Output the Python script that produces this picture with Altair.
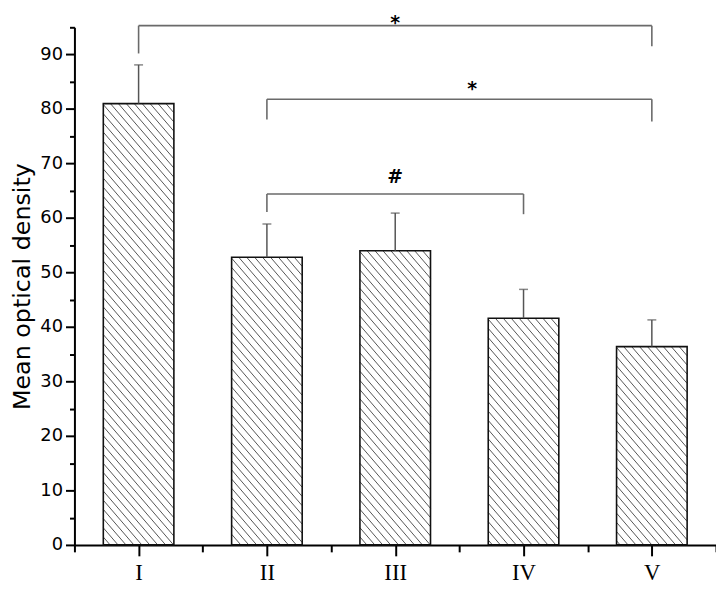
import json
import altair as alt
import pandas as pd

# ---------------- data ----------------
groups = ["I", "II", "III", "IV", "V"]
positions = [1, 2, 3, 4, 5]
means = [81.0, 52.8, 54.0, 41.6, 36.4]
sds = [7.1, 6.1, 6.9, 5.3, 4.9]

br_x1 = [1, 2, 2]
br_x2 = [5, 5, 4]
br_y = [95.3, 81.8, 64.4]
br_left_end = [90.2, 78.1, 61.1]
br_right_end = [91.5, 77.7, 60.7]
br_label = ["*", "*", "#"]
br_label_x = [3.0, 3.6, 3.0]
br_label_y = [94.6, 82.5, 66.4]

y_ticks = list(range(0, 100, 5))
x_ticks = [0.5, 1, 1.5, 2, 2.5, 3, 3.5, 4, 4.5, 5, 5.5]

# ---------------- layout / style ----------------
W_PLOT, H_PLOT = 647, 522
X_DOM = [0.5, 5.5]
Y_DOM = [0, 95]
PX = W_PLOT / (X_DOM[1] - X_DOM[0])   # pixels per x unit
PY = H_PLOT / (Y_DOM[1] - Y_DOM[0])   # pixels per y unit
BAR_W = 0.55                          # bar width in x units
HATCH_SLOPE = 1.16
HATCH_GAP = 8

bars = pd.DataFrame({"group": groups, "pos": positions, "mean": means, "sd": sds})
brackets = pd.DataFrame({"x1": br_x1, "x2": br_x2, "y": br_y,
                         "yl": br_left_end, "yr": br_right_end})
verticals = pd.DataFrame({
    "x": br_x1 + br_x2,
    "y": br_y + br_y,
    "yend": br_left_end + br_right_end,
})
labels = pd.DataFrame({"label": br_label, "x": br_label_x, "y": br_label_y})

x_scale = alt.Scale(domain=X_DOM, nice=False, zero=False)
y_scale = alt.Scale(domain=Y_DOM, nice=False, zero=False)

x_axis = alt.Axis(
    values=x_ticks,
    labelExpr="datum.value % 1 === 0 ? " + json.dumps(groups) + "[datum.value - 1] : ''",
    tickSize={"condition": {"test": "datum.value % 1 === 0", "value": 11}, "value": 7},
    tickWidth=2, tickColor="black",
    domainWidth=2, domainColor="black",
    labelFont="Liberation Serif", labelFontSize=23, labelColor="black",
    labelPadding=6, labelFlush=False, labelOverlap=False,
    grid=False, title=None,
)
y_axis = alt.Axis(
    values=y_ticks,
    labelExpr="datum.value % 10 === 0 ? datum.label : ''",
    tickSize={"condition": {"test": "datum.value % 10 === 0", "value": 9}, "value": 5},
    tickWidth=2, tickColor="black",
    domainWidth=2, domainColor="black",
    labelFont="DejaVu Sans", labelFontSize=18, labelColor="black",
    labelPadding=3, labelFlush=False, labelOverlap=False,
    grid=False,
    title="Mean optical density",
    titleFont="DejaVu Sans", titleFontSize=24, titleFontWeight="normal",
    titleColor="black", titlePadding=5,
)


def X(field):
    return alt.X(field, type="quantitative", scale=x_scale, axis=x_axis)


def Y(field):
    return alt.Y(field, type="quantitative", scale=y_scale, axis=y_axis)


base = alt.Chart(bars).transform_calculate(
    bx="datum.pos - %f" % (BAR_W / 2),
    bx2="datum.pos + %f" % (BAR_W / 2),
    top="datum.mean + datum.sd",
)

bar_fill = base.mark_bar(color="white", stroke=None).encode(
    x=X("bx"), x2="bx2", y=Y("mean"), y2=alt.datum(0)
)

Wpx = BAR_W * PX
hatch = alt.Chart(bars).transform_calculate(
    H="datum.mean * %f" % PY,
    k="sequence(0, 80)",
).transform_flatten(["k"]).transform_calculate(
    u0="%f - datum.k * %f" % (Wpx, HATCH_GAP),
).transform_calculate(
    us="max(0, datum.u0)",
    ue="min(%f, datum.u0 + datum.H / %f)" % (Wpx, HATCH_SLOPE),
).transform_filter("datum.ue > datum.us + 0.5").transform_calculate(
    hx="datum.pos - %f + datum.us / %f" % (BAR_W / 2, PX),
    hx2="datum.pos - %f + datum.ue / %f" % (BAR_W / 2, PX),
    hy="datum.mean - %f * (datum.us - datum.u0) / %f" % (HATCH_SLOPE, PY),
    hy2="datum.mean - %f * (datum.ue - datum.u0) / %f" % (HATCH_SLOPE, PY),
).mark_rule(color="#555555", strokeWidth=1).encode(
    x=X("hx"), x2="hx2", y=Y("hy"), y2="hy2"
)

bar_outline = base.mark_bar(fill=None, fillOpacity=0, stroke="#111111", strokeWidth=1.6).encode(
    x=X("bx"), x2="bx2", y=Y("mean"), y2=alt.datum(0)
)

err = base.mark_rule(color="#555555", strokeWidth=1.5).encode(
    x=X("pos"), y=Y("mean"), y2="top"
)
cap = base.mark_tick(color="#555555", thickness=1.5, size=9, orient="horizontal").encode(
    x=X("pos"), y=Y("top")
)

br_h = alt.Chart(brackets).mark_rule(color="#6a6a6a", strokeWidth=1.6).encode(
    x=X("x1"), x2="x2", y=Y("y")
)
br_v = alt.Chart(verticals).mark_rule(color="#6a6a6a", strokeWidth=1.6).encode(
    x=X("x"), y=Y("y"), y2="yend"
)
br_t = alt.Chart(labels).mark_text(
    font="DejaVu Sans", fontWeight="bold", fontSize=19, color="black",
    baseline="alphabetic", align="center"
).encode(x=X("x"), y=Y("y"), text="label:N")

chart = alt.layer(
    bar_fill, hatch, bar_outline, err, cap, br_h, br_v, br_t
).properties(
    width=W_PLOT, height=H_PLOT,
    background="white",
    autosize=alt.AutoSizeParams(type="none"),
    padding={"left": 67, "top": 17, "right": 0, "bottom": 43},
).configure_view(stroke=None)

chart.save("out.html", embed_options={"renderer": "svg", "actions": False})
